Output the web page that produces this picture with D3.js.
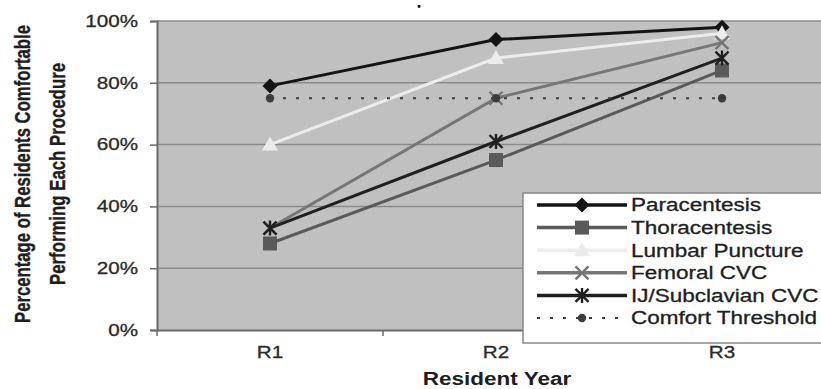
<!DOCTYPE html>
<html>
<head>
<meta charset="utf-8">
<script src="https://cdn.jsdelivr.net/npm/d3@7"></script>
<style>
  html, body { margin: 0; padding: 0; background: #fff; }
  svg { display: block; font-family: "Liberation Sans", Arial, sans-serif; }
</style>
</head>
<body>
<svg id="chart" width="821" height="389"></svg>
<script>
// ---- data ----
const years = ["R1", "R2", "R3"];
const paracentesis = [79, 94, 98];
const thoracentesis = [28, 55, 84];
const lumbarPuncture = [60, 88, 96];
const femoralCVC = [33, 75, 93];
const ijSubclavianCVC = [33, 61, 88];
const comfortThreshold = [75, 75, 75];
const seriesNames = ["Paracentesis", "Thoracentesis", "Lumbar Puncture", "Femoral CVC", "IJ/Subclavian CVC", "Comfort Threshold"];
const yTicks = [0, 20, 40, 60, 80, 100];
const yTickLabels = ["0%", "20%", "40%", "60%", "80%", "100%"];

// ---- styles ----
const styles = [
  { color: "#141414", marker: "diamond", width: 3 },
  { color: "#5a5a5a", marker: "square", width: 3 },
  { color: "#ececec", marker: "triangle", width: 3 },
  { color: "#767676", marker: "x", width: 3 },
  { color: "#202020", marker: "asterisk", width: 3 },
  { color: "#3c3c3c", marker: "circle", width: 2, dash: "3,10" }
];
const allSeries = [paracentesis, thoracentesis, lumbarPuncture, femoralCVC, ijSubclavianCVC, comfortThreshold];
const STRETCH = 1.25; // reference text is horizontally widened

const svg = d3.select("#chart");
const plot = { left: 157, top: 21, bottom: 330, right: 835 };

const x = d3.scaleBand().domain(years).range([plot.left, plot.right]);
const y = d3.scaleLinear().domain([0, 100]).range([plot.bottom, plot.top]);
const cx = d => x(d) + x.bandwidth() / 2;

function widen(sel) {
  sel.each(function () {
    const len = this.getComputedTextLength();
    d3.select(this).attr("textLength", len * STRETCH).attr("lengthAdjust", "spacingAndGlyphs");
  });
}

// background
svg.append("rect").attr("x", plot.left).attr("y", plot.top)
  .attr("width", plot.right - plot.left).attr("height", plot.bottom - plot.top)
  .attr("fill", "#c0c0c0");

// gridlines
svg.append("g").selectAll("line").data(yTicks.filter(t => t > 0)).join("line")
  .attr("x1", plot.left).attr("x2", plot.right)
  .attr("y1", d => y(d)).attr("y2", d => y(d))
  .attr("stroke", "#8a8a8a").attr("stroke-width", 1.5);

// y axis
const yAxis = d3.axisLeft(y).tickValues(yTicks).tickSize(7).tickPadding(12)
  .tickFormat((d, i) => yTickLabels[i]);
const gy = svg.append("g").attr("transform", `translate(${plot.left},0)`).call(yAxis);
gy.select(".domain").attr("stroke", "#6a6a6a").attr("stroke-width", 2);
gy.selectAll(".tick line").attr("stroke", "#6a6a6a").attr("stroke-width", 1.5);
gy.selectAll(".tick text").attr("font-size", 16.5).attr("fill", "#2a2a2a")
  .attr("stroke", "#2a2a2a").attr("stroke-width", 0.3)
  .attr("font-family", "Liberation Sans, Arial, sans-serif").call(widen);

// x axis
const xAxis = d3.axisBottom(x).tickSize(0).tickPadding(16);
const gx = svg.append("g").attr("transform", `translate(0,${plot.bottom})`).call(xAxis);
gx.select(".domain").attr("stroke", "#6a6a6a").attr("stroke-width", 2);
gx.selectAll(".tick text").attr("font-size", 16.5).attr("fill", "#2a2a2a")
  .attr("stroke", "#2a2a2a").attr("stroke-width", 0.3)
  .attr("font-family", "Liberation Sans, Arial, sans-serif").call(widen);
// category boundary ticks
svg.append("g").selectAll("line").data(years).join("line")
  .attr("x1", d => x(d)).attr("x2", d => x(d))
  .attr("y1", plot.bottom).attr("y2", plot.bottom + 6)
  .attr("stroke", "#6a6a6a").attr("stroke-width", 1.5);

// marker path generator
function markerPath(type) {
  switch (type) {
    case "diamond": return "M0,-7.5L7.5,0L0,7.5L-7.5,0Z";
    case "square": return "M-7,-7H7V7H-7Z";
    case "triangle": return "M0,-8L8,6L-8,6Z";
    case "x": return "M-6.5,-6.5L6.5,6.5M6.5,-6.5L-6.5,6.5";
    case "asterisk": return "M-6.5,-6.5L6.5,6.5M6.5,-6.5L-6.5,6.5M0,-7.5V7.5";
    case "circle": return d3.symbol(d3.symbolCircle, 55)();
  }
}
function drawMarker(g, type, color, px, py) {
  const stroked = type === "x" || type === "asterisk";
  g.append("path").attr("d", markerPath(type))
    .attr("transform", `translate(${px},${py})`)
    .attr("fill", stroked ? "none" : color)
    .attr("stroke", stroked ? color : "none")
    .attr("stroke-width", stroked ? 2.4 : 0);
}

// series
const line = d3.line().x(d => cx(d.year)).y(d => y(d.value));
allSeries.forEach((vals, i) => {
  const st = styles[i];
  const pts = years.map((yr, j) => ({ year: yr, value: vals[j] }));
  const g = svg.append("g");
  g.append("path").datum(pts).attr("d", line)
    .attr("fill", "none").attr("stroke", st.color).attr("stroke-width", st.width)
    .attr("stroke-dasharray", st.dash || null);
  pts.forEach(p => drawMarker(g, st.marker, st.color, cx(p.year), y(p.value)));
});

// legend
const lg = svg.append("g");
lg.append("rect").attr("x", 523).attr("y", 193).attr("width", 320).attr("height", 150)
  .attr("fill", "#fff").attr("stroke", "#888").attr("stroke-width", 1.5);
const rowY = d3.scalePoint().domain(seriesNames).range([205, 318]);
seriesNames.forEach((name, i) => {
  const st = styles[i];
  const yy = rowY(name);
  lg.append("line").attr("x1", 537).attr("x2", 627).attr("y1", yy).attr("y2", yy)
    .attr("stroke", st.color).attr("stroke-width", st.dash ? 2 : 3.5)
    .attr("stroke-dasharray", st.dash || null);
  drawMarker(lg, st.marker, st.color, 582, yy);
  lg.append("text").attr("x", 631).attr("y", yy).attr("dy", "0.36em")
    .attr("font-size", 18).attr("fill", "#1e1e1e")
    .attr("stroke", "#1e1e1e").attr("stroke-width", 0.3)
    .text(name).call(widen);
});

// axis titles
svg.append("text").attr("x", 497).attr("y", 384.5).attr("text-anchor", "middle")
  .attr("font-size", 18).attr("font-weight", "bold").attr("fill", "#1e1e1e")
  .text("Resident Year").call(widen);

const yTitle = [
  { text: "Percentage of Residents Comfortable", x: 30, len: 298 },
  { text: "Performing Each Procedure", x: 65, len: 222 }
];
yTitle.forEach(t => {
  svg.append("text").attr("transform", `translate(${t.x},174) scale(${STRETCH},1) rotate(-90)`)
    .attr("text-anchor", "middle").attr("font-size", 18).attr("font-weight", "bold")
    .attr("fill", "#1e1e1e").attr("stroke", "#1e1e1e").attr("stroke-width", 0.3)
    .attr("textLength", t.len).attr("lengthAdjust", "spacingAndGlyphs")
    .text(t.text);
});

// title (a single dot)
svg.append("text").attr("transform", "translate(419,4.5) rotate(180)")
  .attr("text-anchor", "middle")
  .attr("font-size", 18).attr("font-weight", "bold").attr("fill", "#111").text(".");
</script>
</body>
</html>
